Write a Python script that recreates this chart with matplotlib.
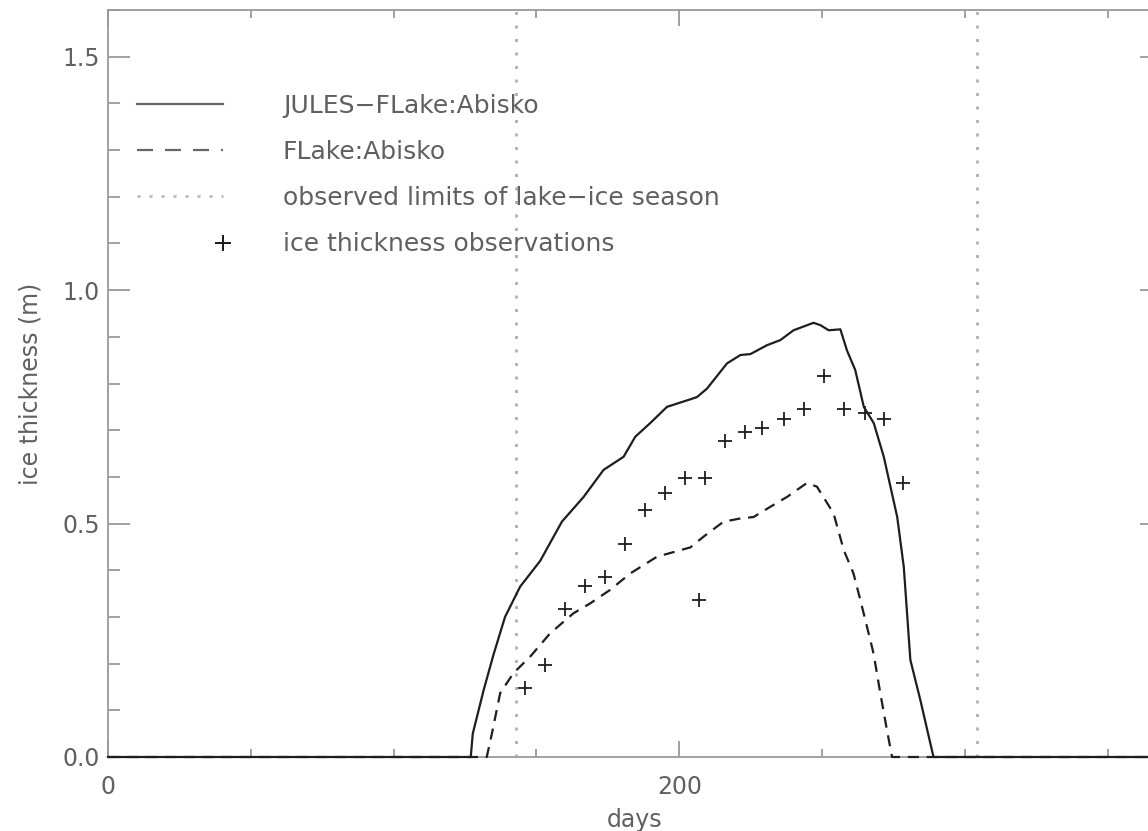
"""
Lake-ice thickness at Abisko: JULES-FLake and FLake runs against
observed ice thickness and the observed limits of the ice season.
"""

import matplotlib
matplotlib.use('Agg')
import matplotlib.pyplot as plt
from matplotlib.legend_handler import HandlerLine2D
from matplotlib.ticker import MultipleLocator

##########################
## Data

# JULES-FLake simulated ice thickness (m)
jules_days = [0, 127, 127.7, 131.5, 135, 139, 144.3, 151.3, 158.9, 166.5,
              173.5, 180.5, 184.6, 189.8, 195.7, 203.8, 206.2, 209.7, 216.7,
              221.4, 224.9, 230.7, 235.4, 240, 247, 249.4, 252.3, 256.4,
              258.7, 261.6, 264.6, 268.1, 271.6, 276.3, 278.6, 280.9, 284.4,
              289, 365]
jules_ice = [0, 0, 0.05, 0.143, 0.22, 0.30, 0.365, 0.42, 0.504, 0.557,
             0.615, 0.643, 0.686, 0.715, 0.75, 0.766, 0.771, 0.789, 0.843,
             0.861, 0.863, 0.882, 0.893, 0.914, 0.930, 0.925, 0.914, 0.916,
             0.871, 0.829, 0.75, 0.715, 0.643, 0.514, 0.407, 0.208, 0.122,
             0, 0]

# FLake simulated ice thickness (m)
flake_days = [0, 132.6, 134.4, 137.3, 142, 147.8, 154.8, 163, 168.8, 175.8,
              182.8, 192.2, 203.9, 208.5, 215.5, 221.4, 226, 231.9, 237.7,
              244.7, 248.2, 254, 257.6, 261, 263.4, 266.9, 268, 270.4, 272.7,
              274.5, 365]
flake_ice = [0, 0, 0.05, 0.137, 0.18, 0.215, 0.265, 0.308, 0.329, 0.358,
             0.393, 0.429, 0.449, 0.472, 0.504, 0.511, 0.514, 0.536, 0.557,
             0.587, 0.579, 0.522, 0.443, 0.393, 0.336, 0.25, 0.222, 0.136,
             0.058, 0, 0]

# observed ice thickness (m)
obs_days = [146, 153, 160, 167, 174, 181, 188, 195, 202, 207, 209, 216, 223,
            229, 236.5, 243.5, 250.5, 257.5, 265, 271.5, 278.5]
obs_ice = [0.147, 0.197, 0.316, 0.367, 0.386, 0.457, 0.529, 0.565, 0.597,
           0.336, 0.597, 0.677, 0.697, 0.705, 0.725, 0.746, 0.816, 0.746,
           0.736, 0.725, 0.587]

# observed start and end of the lake-ice season (day)
season_limits = [142.8, 304.4]

labels = ['JULES\u2212FLake:Abisko', 'FLake:Abisko',
          'observed limits of lake\u2212ice season',
          'ice thickness observations']

##########################
## Style

linecol = '#1e1e1e'
axcol = '#9a9a9a'
txtcol = '#606060'
fs = 17
legfs = 18

plt.rcParams['font.family'] = ['DejaVu Sans']


class HandlerEndMarker(HandlerLine2D):
    # puts the marker at the right end of the legend handle
    def get_xdata(self, legend, xdescent, ydescent, width, height, fontsize):
        x_end = -xdescent + width
        return [x_end, x_end], [x_end]


fig = plt.figure(figsize=(11.48, 8.31), dpi=100)
# axes run slightly past the right edge of the figure, as in the original
ax = fig.add_axes([108 / 1148, 74 / 831, 1054 / 1148, 747 / 831])

l1, = ax.plot(jules_days, jules_ice, color=linecol, lw=1.6,
              clip_on=False, zorder=4)
l2, = ax.plot(flake_days, flake_ice, color=linecol, lw=1.6,
              dashes=(5, 3.5), clip_on=False, zorder=4)
for d in season_limits:
    l3 = ax.axvline(d, color='#a8a8a8', lw=1.8, dashes=(1.2, 4.2), zorder=2)
l4, = ax.plot(obs_days, obs_ice, ls='none', marker='+', ms=10, mew=1.3,
              color=linecol, zorder=5)

ax.set_xlim(0, 369)
ax.set_ylim(0, 1.6)

ax.xaxis.set_major_locator(MultipleLocator(200))
ax.xaxis.set_minor_locator(MultipleLocator(50))
ax.yaxis.set_major_locator(MultipleLocator(0.5))
ax.yaxis.set_minor_locator(MultipleLocator(0.1))
ax.yaxis.set_major_formatter(plt.FormatStrFormatter('%.1f'))

ax.tick_params(which='both', direction='in', top=True, right=True,
               color=axcol, width=1.3, labelcolor=txtcol, labelsize=fs)
ax.tick_params(axis='x', which='major', length=11.5, pad=13)
ax.tick_params(axis='x', which='minor', length=5.8)
ax.tick_params(axis='y', which='major', length=15.8, pad=6)
ax.tick_params(axis='y', which='minor', length=8.3)
for sp in ax.spines.values():
    sp.set_color(axcol)
    sp.set_linewidth(1.3)

ax.set_xlabel('days', fontsize=fs, color=txtcol)
ax.set_ylabel('ice thickness (m)', fontsize=fs, color=txtcol)
ax.xaxis.set_label_coords(0.5, -0.068)
ax.yaxis.set_label_coords(-0.062, 0.5)

leg = ax.legend([l1, l2, l3, l4], labels, loc='upper left',
                bbox_to_anchor=(0.0275, 0.888), frameon=False,
                fontsize=legfs, labelcolor=txtcol, borderpad=0,
                borderaxespad=0, handlelength=3.44, handletextpad=2.4,
                labelspacing=0.89,
                handler_map={l4: HandlerEndMarker(numpoints=2)})
hl = leg.get_lines()
for h in hl[:3]:
    h.set_color('#666666')
hl[1].set_dashes((7.2, 5.4))
hl[2].set_color('#b0b0b0')
hl[2].set_dashes((1.2, 3.6))
hl[3].set_markersize(12)

plt.savefig('out.png', dpi=100)
